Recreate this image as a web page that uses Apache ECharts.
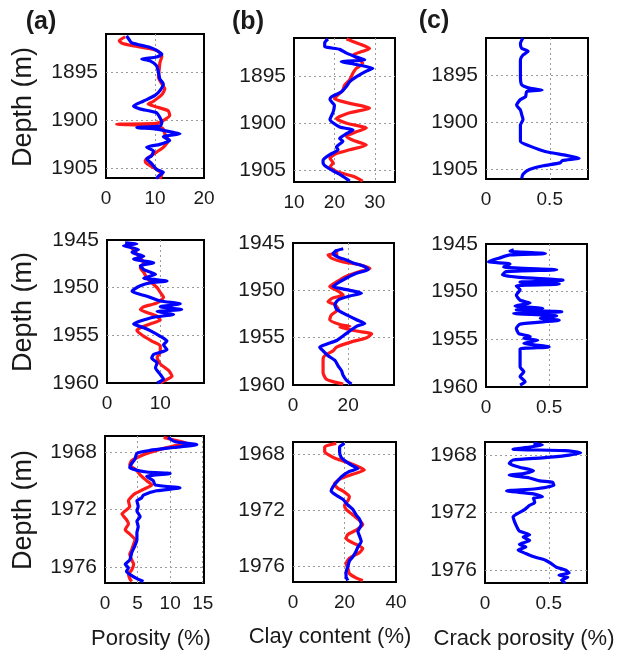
<!DOCTYPE html>
<html>
<head>
<meta charset="utf-8">
<script src="https://cdn.jsdelivr.net/npm/echarts@6/dist/echarts.min.js"></script>
<style>
  html, body { margin: 0; padding: 0; background: #fff; }
  #main { width: 624px; height: 652px; }
</style>
</head>
<body>
<div id="main"></div>
<script>
// tick labels
const depthTicks1 = [1895, 1900, 1905]
const depthTicks2 = [1945, 1950, 1955, 1960]
const depthTicks3 = [1968, 1972, 1976]
const poroTicks1 = [0, 10, 20]
const poroTicks2 = [0, 10]
const poroTicks3 = [0, 5, 10, 15]
const clayTicks1 = [10, 20, 30]
const clayTicks2 = [0, 20]
const clayTicks3 = [0, 20, 40]
const crackTicks = [0, 0.5]

// [value, depth] pairs
const poro1Red = [[3.9,1891.3],[2.7,1891.7],[3.4,1892.0],[5.2,1892.2],[10.3,1892.7],[11.4,1893.3],[11,1894.0],[10.9,1894.5],[10.7,1895.5],[11.4,1896.2],[12,1896.7],[11.4,1897.3],[9.7,1898.0],[8.6,1898.3],[10.3,1898.6],[12.7,1899.0],[13,1899.5],[11.7,1900.0],[10.3,1900.3],[2.2,1900.4],[10.3,1900.55],[11.7,1900.9],[12,1901.4],[12.7,1902.1],[11.7,1902.8],[10.3,1903.3],[8.6,1903.9],[8,1904.2],[8.3,1904.5],[10.3,1905.1],[11.4,1905.6],[11,1906.1]]
const poro1Blue = [[4.2,1891.2],[4.6,1891.5],[5.2,1891.9],[9,1892.4],[10.3,1892.7],[11.4,1893.1],[10.3,1893.4],[7.3,1893.6],[9,1893.8],[10.3,1894.3],[10.7,1895.0],[11,1895.7],[11.7,1896.2],[11,1896.9],[10,1897.4],[7.6,1898.0],[5.6,1898.5],[6.9,1898.8],[10.3,1899.2],[11,1899.7],[11.4,1900.2],[11,1900.6],[6.3,1900.75],[10.3,1900.9],[13.7,1901.25],[15.1,1901.4],[11.7,1901.7],[13,1902.1],[11,1902.5],[8.3,1902.8],[9.7,1903.2],[9.3,1903.7],[8.3,1904.0],[9.3,1904.5],[10.3,1905.1],[11.7,1905.4],[10.7,1905.8],[10.3,1906.1]]
const clay1Red = [[23,1891.1],[25.4,1891.5],[28.7,1892.1],[27,1892.4],[24.6,1892.8],[26.2,1893.3],[27,1893.7],[25.4,1894.2],[24.6,1894.7],[23.8,1895.4],[22.5,1896.0],[22.1,1896.5],[20.9,1897.0],[20,1897.4],[23.8,1897.9],[28.7,1898.4],[23.8,1898.9],[20.5,1899.5],[23,1900.0],[27.9,1900.5],[25.4,1900.9],[23,1901.4],[24.6,1901.8],[27.9,1902.3],[23.8,1902.8],[20.5,1903.2],[18.9,1903.7],[19.7,1904.2],[18.9,1904.6],[20.5,1905.1],[24.6,1905.6],[27,1906.1]]
const clay1Blue = [[18.4,1891.1],[17.6,1891.5],[17.6,1891.9],[21.3,1892.2],[23,1892.6],[25.4,1893.0],[27.5,1893.3],[21.7,1893.5],[25.4,1893.8],[29.5,1894.2],[27.9,1894.5],[25.4,1895.1],[23.8,1895.6],[23,1896.1],[21.7,1896.7],[19.3,1897.2],[18.9,1897.5],[20,1898.1],[19.7,1898.8],[18.9,1899.6],[21.3,1900.4],[24.6,1900.7],[23,1901.1],[21.3,1901.6],[22.1,1901.9],[20.5,1902.5],[20.9,1902.8],[18.9,1903.3],[17.2,1903.9],[17.2,1904.2],[18,1904.6],[20,1905.1],[22.1,1905.6],[23.8,1906.1]]
const crack1 = [[0.29,1891.1],[0.27,1891.7],[0.28,1892.2],[0.33,1892.5],[0.29,1892.9],[0.27,1893.4],[0.27,1894.1],[0.27,1895.2],[0.28,1896.05],[0.34,1896.4],[0.44,1896.6],[0.32,1896.75],[0.31,1897.3],[0.27,1897.6],[0.24,1898.2],[0.27,1898.7],[0.28,1899.2],[0.29,1899.7],[0.27,1900.3],[0.27,1901.1],[0.27,1902.0],[0.34,1902.5],[0.42,1902.9],[0.5,1903.2],[0.63,1903.5],[0.73,1903.8],[0.6,1904.05],[0.58,1904.3],[0.45,1904.6],[0.34,1905.0],[0.29,1905.5],[0.28,1905.95]]

const poro2Red = [[3.75,1945.5],[4.4,1945.7],[5.3,1946.3],[6.25,1946.9],[6.9,1947.4],[6.25,1947.9],[6.9,1948.4],[7.5,1949.0],[8.4,1949.5],[9.4,1950.0],[10,1950.5],[10.6,1951.0],[9.4,1951.6],[6.9,1952.0],[6.25,1952.3],[7.5,1952.6],[9.4,1953.0],[10,1953.4],[8.1,1953.8],[6.25,1954.2],[5.6,1954.5],[6.9,1955.1],[8.4,1955.6],[10,1956.1],[10,1956.8],[9.4,1957.3],[10,1958.0],[11.6,1958.7],[12.2,1959.3],[10.6,1959.8],[10,1960]]
const poro2Blue = [[3.4,1945.3],[5.6,1945.4],[3.1,1945.6],[5.9,1946.0],[4.7,1946.3],[6.9,1946.7],[5,1947.0],[8.75,1947.4],[6.25,1947.7],[6.9,1948.1],[9.1,1948.6],[6.9,1949.0],[11.25,1949.3],[8.1,1949.5],[6.25,1949.8],[5,1950.2],[4.7,1950.4],[7.5,1950.9],[10,1951.4],[13.75,1951.7],[10,1952.0],[14,1952.3],[9.4,1952.5],[12.5,1952.8],[8.75,1953.1],[6.25,1953.5],[5,1953.8],[6.9,1954.2],[8.1,1954.5],[10,1955.1],[11.25,1955.6],[10.6,1956.0],[11.25,1956.5],[8.75,1957.0],[8.4,1957.4],[9.4,1957.9],[9.1,1958.4],[10,1959.1],[10.6,1959.6],[9.4,1960]]
const clay2Red = [[16.4,1946.1],[12.7,1946.25],[13.9,1946.6],[18.2,1947.0],[24.2,1947.3],[27.9,1947.7],[24.2,1948.0],[19.4,1948.5],[15.8,1949.1],[13.3,1949.6],[15.2,1949.9],[18.2,1950.5],[14.5,1950.8],[12.7,1951.2],[15.2,1951.5],[16.4,1952.0],[13.9,1952.6],[13.3,1953.1],[17,1953.6],[20.6,1953.8],[17,1953.9],[23,1954.3],[28.5,1954.6],[26.7,1955.0],[20.6,1955.5],[15.8,1956.0],[14.5,1956.4],[11.5,1956.9],[10.9,1957.3],[10.9,1958.0],[10.9,1958.7],[12.1,1959.4],[15.2,1959.7],[18.2,1959.9]]
const clay2Blue = [[18.2,1945.6],[15.8,1945.8],[14.5,1946.1],[16.4,1946.5],[19.4,1946.8],[21.8,1947.1],[26,1947.5],[27.3,1947.8],[23,1948.2],[19.4,1948.7],[16.4,1949.2],[14.5,1949.6],[20.6,1950.0],[24.8,1950.3],[20.6,1950.6],[16.4,1951.0],[15.2,1951.5],[15.8,1952.0],[19.4,1952.6],[23,1953.1],[26,1953.5],[23,1953.8],[20.6,1954.3],[18.2,1954.8],[15.8,1955.3],[12.1,1955.7],[9.7,1956.0],[10.9,1956.4],[12.7,1956.9],[15.2,1957.4],[16.4,1958.0],[17.6,1958.5],[18.2,1959.0],[19.4,1959.5],[21.2,1959.9]]
const crack2 = [[0.22,1945.6],[0.19,1945.75],[0.47,1946.0],[0.19,1946.15],[0.1,1946.5],[0.02,1946.85],[0.19,1947.1],[0.14,1947.4],[0.56,1947.7],[0.16,1947.9],[0.13,1948.25],[0.27,1948.5],[0.61,1948.8],[0.27,1949.0],[0.58,1949.2],[0.24,1949.4],[0.27,1949.8],[0.24,1950.35],[0.27,1950.9],[0.35,1951.2],[0.23,1951.5],[0.45,1951.75],[0.24,1951.9],[0.6,1952.1],[0.22,1952.3],[0.56,1952.55],[0.43,1952.8],[0.58,1953.0],[0.27,1953.4],[0.24,1953.85],[0.26,1954.4],[0.35,1954.7],[0.3,1954.9],[0.41,1955.1],[0.3,1955.4],[0.5,1955.8],[0.27,1956.0],[0.27,1956.4],[0.27,1957.2],[0.27,1957.9],[0.3,1958.4],[0.27,1958.9],[0.31,1959.45],[0.27,1959.8]]

const poro3Red = [[9,1967.0],[10.8,1967.2],[12.6,1967.4],[10.5,1967.6],[7.9,1967.9],[5.9,1968.2],[4.1,1968.6],[3.8,1968.9],[4.9,1969.3],[5.4,1969.6],[6.4,1970.0],[7.2,1970.3],[5.9,1970.6],[4.6,1970.9],[4.1,1971.1],[3.6,1971.4],[3.8,1971.8],[3.1,1972.1],[2.6,1972.3],[3.3,1972.7],[3.6,1973.0],[3.1,1973.4],[3.8,1973.7],[4.6,1974.1],[4.4,1974.4],[4.1,1974.8],[3.8,1975.1],[4.1,1975.5],[4.4,1975.8],[4.1,1976.2],[3.6,1976.5],[3.8,1976.8],[4.1,1977.0]]
const poro3Blue = [[9.7,1967.0],[10.8,1967.3],[14.1,1967.5],[10.5,1967.7],[6.9,1967.9],[4.9,1968.1],[4.6,1968.5],[4.1,1968.8],[3.8,1969.1],[6.4,1969.4],[10,1969.5],[6.4,1969.7],[7.4,1970.0],[7.7,1970.3],[11.5,1970.5],[7.9,1970.7],[5.9,1971.0],[5.6,1971.2],[4.9,1971.4],[5.1,1971.8],[4.9,1972.1],[5.4,1972.5],[4.9,1972.8],[5.1,1973.2],[4.9,1973.6],[4.9,1974.1],[4.6,1974.5],[4.1,1975.0],[3.8,1975.5],[3.1,1975.8],[3.6,1976.05],[3.3,1976.3],[3.8,1976.5],[4.9,1976.8],[5.9,1977.0]]
const clay3Red = [[16.8,1967.2],[12.3,1967.45],[12.3,1967.8],[14.2,1968.05],[16.8,1968.3],[21.9,1968.6],[25.8,1968.9],[27.7,1969.1],[23.2,1969.4],[18.7,1969.7],[16.1,1970.1],[17.4,1970.4],[19.4,1970.6],[21.9,1971.0],[21.3,1971.3],[20,1971.6],[20.6,1971.9],[23.2,1972.3],[25.2,1972.6],[27.1,1973.0],[24.5,1973.4],[21.3,1973.7],[20.6,1974.0],[23.2,1974.3],[27.1,1974.7],[25.8,1975.0],[21.9,1975.4],[20.6,1975.8],[21.3,1976.1],[21.9,1976.5],[24.5,1976.8],[27.1,1977.0]]
const clay3Blue = [[20,1967.2],[18.1,1967.45],[18.1,1967.8],[18.7,1968.2],[20.6,1968.5],[23.2,1968.8],[25.2,1969.0],[21.9,1969.2],[18.7,1969.6],[16.8,1970.0],[15.5,1970.3],[14.8,1970.6],[16.8,1970.9],[19.4,1971.2],[21.3,1971.6],[23.2,1971.9],[24.5,1972.3],[25.8,1972.6],[26.5,1973.0],[25.2,1973.5],[25.8,1973.8],[26.5,1974.2],[25.2,1974.6],[24.5,1974.9],[23.2,1975.3],[21.9,1975.6],[21.3,1976.0],[20.6,1976.4],[20.6,1976.7],[21.3,1977.0]]
const crack3 = [[0.38,1967.2],[0.45,1967.3],[0.35,1967.45],[0.22,1967.6],[0.63,1967.7],[0.75,1967.85],[0.63,1968.05],[0.45,1968.2],[0.22,1968.35],[0.19,1968.6],[0.27,1968.85],[0.38,1969.1],[0.3,1969.3],[0.19,1969.4],[0.35,1969.6],[0.43,1969.8],[0.53,1969.9],[0.54,1970.1],[0.4,1970.35],[0.17,1970.5],[0.38,1970.7],[0.45,1970.9],[0.38,1971.0],[0.39,1971.3],[0.35,1971.5],[0.31,1971.8],[0.27,1972.0],[0.22,1972.3],[0.23,1972.6],[0.25,1973.0],[0.27,1973.3],[0.35,1973.55],[0.3,1973.7],[0.35,1973.95],[0.27,1974.2],[0.32,1974.4],[0.26,1974.6],[0.32,1974.85],[0.39,1975.1],[0.47,1975.3],[0.52,1975.55],[0.56,1975.8],[0.63,1976.0],[0.66,1976.2],[0.58,1976.35],[0.65,1976.5],[0.6,1976.7],[0.63,1976.9]]

const RED = '#ff1a1a'
const BLUE = '#0000ff'
const FONT = '"Liberation Sans", Arial, sans-serif'

// box = [left, top, width, height]
const panels = [
  { box: [106, 34, 98, 144], x: [0, 20], xTicks: poroTicks1, y: [1891, 1906], yTicks: depthTicks1, red: poro1Red, blue: poro1Blue },
  { box: [294, 38, 101, 144], x: [10, 35], xTicks: clayTicks1, y: [1891, 1906.2], yTicks: depthTicks1, red: clay1Red, blue: clay1Blue },
  { box: [486, 38, 102, 141], x: [0, 0.8], xTicks: crackTicks, y: [1891.1, 1906], yTicks: depthTicks1, blue: crack1 },
  { box: [107, 240, 97, 143], x: [0, 18.2], xTicks: poroTicks2, y: [1945, 1960], yTicks: depthTicks2, red: poro2Red, blue: poro2Blue },
  { box: [293, 243, 101, 142], x: [0, 36.6], xTicks: clayTicks2, y: [1945, 1960], yTicks: depthTicks2, red: clay2Red, blue: clay2Blue },
  { box: [486, 244, 101, 143], x: [0, 0.8], xTicks: crackTicks, y: [1945, 1960], yTicks: depthTicks2, blue: crack2 },
  { box: [105, 436, 99, 147], x: [0, 15.2], xTicks: poroTicks3, y: [1966.9, 1977.1], yTicks: depthTicks3, red: poro3Red, blue: poro3Blue },
  { box: [293, 442, 103, 140], x: [0, 40], xTicks: clayTicks3, y: [1967.1, 1977.1], yTicks: depthTicks3, red: clay3Red, blue: clay3Blue },
  { box: [485, 442, 102, 141], x: [0, 0.8], xTicks: crackTicks, y: [1967.1, 1976.9], yTicks: depthTicks3, blue: crack3 },
]

const gridLine = { show: true, lineStyle: { color: '#9a9a9a', type: [2, 3], width: 1 } }

// grid lines only inside the box, so the border stays solid
function inner (ticks, range) {
  return ticks.filter(t => t > range[0] + 1e-6 && t < range[1] - 1e-6)
}

const grids = []
const xAxes = []
const yAxes = []
const series = []

panels.forEach((p, i) => {
  grids.push({
    left: p.box[0], top: p.box[1], width: p.box[2], height: p.box[3],
    show: true, borderColor: '#000', borderWidth: 2, backgroundColor: 'transparent'
  })
  xAxes.push({
    gridIndex: i, type: 'value', min: p.x[0], max: p.x[1],
    axisLine: { show: false },
    axisTick: { show: false, customValues: inner(p.xTicks, p.x) },
    axisLabel: {
      customValues: p.xTicks, fontSize: 19, color: '#1a1a1a', margin: 11, fontFamily: FONT,
      formatter: v => String(v)
    },
    splitLine: gridLine
  })
  yAxes.push({
    gridIndex: i, type: 'value', inverse: true, min: p.y[0], max: p.y[1],
    axisLine: { show: false },
    axisTick: { show: false, customValues: inner(p.yTicks, p.y) },
    axisLabel: {
      customValues: p.yTicks, fontSize: 21, color: '#1a1a1a', margin: 8, fontFamily: FONT,
      formatter: v => String(v)
    },
    splitLine: gridLine
  })
  if (p.red) {
    series.push({
      type: 'line', xAxisIndex: i, yAxisIndex: i, data: p.red,
      symbol: 'none', smooth: 0.2, z: 3,
      lineStyle: { color: RED, width: 3.2 }
    })
  }
  series.push({
    type: 'line', xAxisIndex: i, yAxisIndex: i, data: p.blue,
    symbol: 'none', smooth: 0.2, z: 4,
    lineStyle: { color: BLUE, width: 3.2 }
  })
})

function label (text, x, y, size, opts = {}) {
  return {
    type: 'text', x, y, rotation: opts.rotate || 0,
    style: {
      text, fill: '#1a1a1a', fontSize: size, fontFamily: FONT,
      fontWeight: opts.bold ? 'bold' : 'normal',
      align: 'center', verticalAlign: 'middle'
    }
  }
}

const chart = echarts.init(document.getElementById('main'))
chart.setOption({
  animation: false,
  backgroundColor: '#fff',
  grid: grids,
  xAxis: xAxes,
  yAxis: yAxes,
  series,
  graphic: [
    label('(a)', 41, 22, 25, { bold: true }),
    label('(b)', 248, 22, 25, { bold: true }),
    label('(c)', 434, 21, 25, { bold: true }),
    label('Depth (m)', 24, 107, 27, { rotate: Math.PI / 2 }),
    label('Depth (m)', 24, 312, 27, { rotate: Math.PI / 2 }),
    label('Depth (m)', 24, 510, 27, { rotate: Math.PI / 2 }),
    label('Porosity (%)', 151, 639, 22),
    label('Clay content (%)', 330, 637, 22),
    label('Crack porosity (%)', 524, 639, 22),
  ]
})
</script>
</body>
</html>
